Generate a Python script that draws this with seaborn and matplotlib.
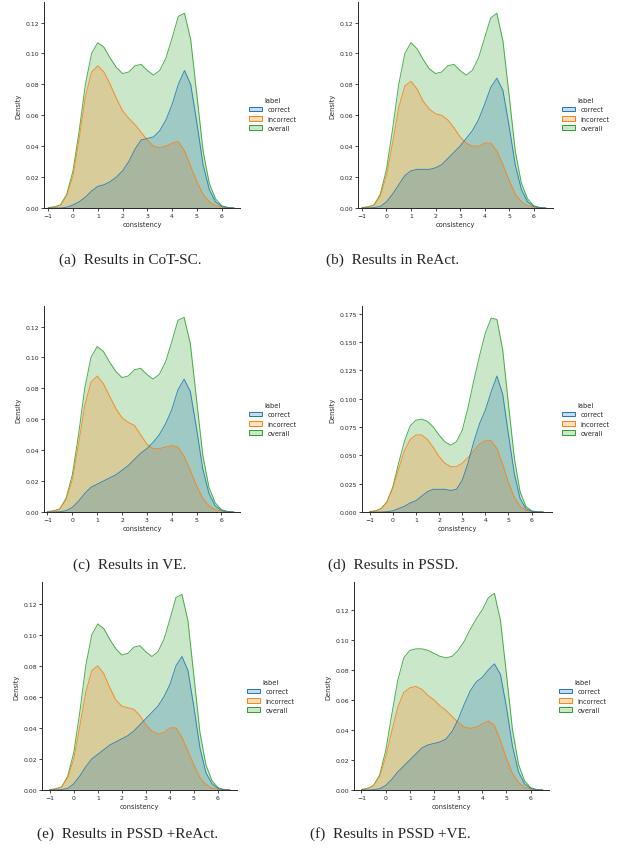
import matplotlib
matplotlib.use("Agg")
import matplotlib.pyplot as plt
import seaborn as sns
from matplotlib.patches import Patch

# grid of consistency values where the density curves were read
consistency = [-1.0, -0.75, -0.5, -0.25, 0.0, 0.25, 0.5, 0.75, 1.0, 1.25, 1.5,
               1.75, 2.0, 2.25, 2.5, 2.75, 3.0, 3.25, 3.5, 3.75, 4.0, 4.25,
               4.5, 4.75, 5.0, 5.25, 5.5, 5.75, 6.0, 6.25, 6.5]

labels = ["correct", "incorrect", "overall"]

# (a) CoT-SC
cotsc_correct = [0, 0, 0, 0.0005, 0.002, 0.004, 0.007, 0.011, 0.014, 0.015, 0.017, 0.020, 0.024, 0.030, 0.038, 0.044,
                 0.045, 0.046, 0.050, 0.057, 0.067, 0.080, 0.089, 0.080, 0.055, 0.028, 0.012, 0.004, 0.001, 0.0002, 0]
cotsc_incorrect = [0, 0.0005, 0.002, 0.008, 0.021, 0.045, 0.072, 0.088, 0.092, 0.088, 0.080, 0.071, 0.063, 0.058, 0.054, 0.049,
                   0.044, 0.040, 0.039, 0.040, 0.042, 0.043, 0.037, 0.027, 0.017, 0.009, 0.004, 0.0015, 0.0005, 0.0001, 0]
cotsc_overall = [0.0003, 0.0008, 0.002, 0.009, 0.024, 0.050, 0.080, 0.100, 0.107, 0.104, 0.097, 0.091, 0.087, 0.088, 0.092, 0.093,
                 0.089, 0.086, 0.089, 0.097, 0.110, 0.124, 0.126, 0.109, 0.073, 0.037, 0.016, 0.006, 0.0015, 0.0003, 0]

# (b) ReAct
react_correct = [0, 0, 0.0003, 0.001, 0.004, 0.009, 0.015, 0.021, 0.024, 0.025, 0.025, 0.025, 0.026, 0.028, 0.032, 0.036,
                 0.040, 0.045, 0.050, 0.057, 0.067, 0.078, 0.084, 0.076, 0.053, 0.028, 0.012, 0.004, 0.001, 0.0002, 0]
react_incorrect = [0, 0.0005, 0.002, 0.008, 0.021, 0.042, 0.065, 0.079, 0.082, 0.077, 0.069, 0.064, 0.061, 0.060, 0.057, 0.052,
                   0.046, 0.042, 0.040, 0.040, 0.042, 0.042, 0.037, 0.028, 0.018, 0.009, 0.004, 0.0015, 0.0005, 0.0001, 0]
react_overall = [0.0003, 0.0008, 0.002, 0.009, 0.025, 0.051, 0.080, 0.100, 0.107, 0.103, 0.096, 0.090, 0.087, 0.088, 0.092, 0.093,
                 0.089, 0.086, 0.089, 0.097, 0.110, 0.123, 0.126, 0.108, 0.073, 0.037, 0.016, 0.006, 0.0015, 0.0003, 0]

# (c) VE
ve_correct = [0, 0, 0.0002, 0.0008, 0.003, 0.007, 0.012, 0.016, 0.018, 0.020, 0.022, 0.024, 0.027, 0.030, 0.034, 0.038,
              0.041, 0.045, 0.050, 0.057, 0.066, 0.079, 0.086, 0.078, 0.054, 0.028, 0.012, 0.004, 0.001, 0.0002, 0]
ve_incorrect = [0, 0.0005, 0.002, 0.008, 0.021, 0.044, 0.069, 0.084, 0.088, 0.083, 0.075, 0.067, 0.061, 0.058, 0.056, 0.050,
                0.044, 0.041, 0.041, 0.042, 0.043, 0.042, 0.036, 0.027, 0.017, 0.009, 0.004, 0.0015, 0.0005, 0.0001, 0]
ve_overall = [0.0003, 0.0008, 0.002, 0.009, 0.024, 0.050, 0.080, 0.100, 0.107, 0.104, 0.097, 0.091, 0.087, 0.088, 0.092, 0.093,
              0.089, 0.086, 0.089, 0.097, 0.110, 0.124, 0.126, 0.109, 0.073, 0.037, 0.016, 0.006, 0.0015, 0.0003, 0]

# (d) PSSD
pssd_correct = [0, 0, 0, 0.0003, 0.001, 0.003, 0.005, 0.008, 0.010, 0.014, 0.018, 0.020, 0.020, 0.020, 0.019, 0.020,
                0.028, 0.043, 0.062, 0.078, 0.090, 0.106, 0.120, 0.104, 0.068, 0.034, 0.012, 0.003, 0.0006, 0.0001, 0]
pssd_incorrect = [0.0003, 0.001, 0.003, 0.009, 0.021, 0.038, 0.054, 0.064, 0.068, 0.068, 0.064, 0.057, 0.049, 0.043, 0.040, 0.040,
                  0.043, 0.048, 0.054, 0.060, 0.063, 0.063, 0.056, 0.042, 0.026, 0.013, 0.005, 0.0015, 0.0004, 0.0001, 0]
pssd_overall = [0.0003, 0.001, 0.003, 0.009, 0.022, 0.043, 0.062, 0.076, 0.081, 0.082, 0.080, 0.075, 0.068, 0.062, 0.059, 0.062,
                0.072, 0.092, 0.116, 0.138, 0.158, 0.171, 0.170, 0.143, 0.095, 0.048, 0.018, 0.005, 0.001, 0.0002, 0]

# (e) PSSD +ReAct
pssd_react_correct = [0, 0, 0.0003, 0.001, 0.004, 0.009, 0.015, 0.020, 0.023, 0.026, 0.029, 0.031, 0.033, 0.035, 0.038, 0.042,
                      0.046, 0.050, 0.054, 0.060, 0.068, 0.080, 0.086, 0.077, 0.053, 0.027, 0.011, 0.004, 0.001, 0.0002, 0]
pssd_react_incorrect = [0, 0.0005, 0.002, 0.008, 0.020, 0.041, 0.063, 0.077, 0.080, 0.075, 0.066, 0.058, 0.054, 0.053, 0.052, 0.048,
                        0.042, 0.038, 0.036, 0.037, 0.040, 0.040, 0.034, 0.025, 0.016, 0.008, 0.0035, 0.0013, 0.0004, 0.0001, 0]
pssd_react_overall = [0.0003, 0.0008, 0.002, 0.009, 0.024, 0.050, 0.080, 0.100, 0.107, 0.104, 0.097, 0.091, 0.087, 0.088, 0.092, 0.093,
                      0.089, 0.086, 0.089, 0.097, 0.110, 0.124, 0.126, 0.109, 0.073, 0.037, 0.016, 0.006, 0.0015, 0.0003, 0]

# (f) PSSD +VE
pssd_ve_correct = [0, 0, 0.0002, 0.0008, 0.003, 0.007, 0.012, 0.016, 0.020, 0.024, 0.028, 0.030, 0.031, 0.032, 0.034, 0.039,
                   0.047, 0.057, 0.066, 0.072, 0.075, 0.080, 0.084, 0.077, 0.055, 0.029, 0.012, 0.004, 0.001, 0.0002, 0]
pssd_ve_incorrect = [0.0003, 0.001, 0.003, 0.009, 0.022, 0.039, 0.055, 0.065, 0.068, 0.069, 0.067, 0.063, 0.060, 0.056, 0.053, 0.049,
                     0.045, 0.042, 0.041, 0.042, 0.044, 0.046, 0.043, 0.033, 0.021, 0.011, 0.005, 0.0018, 0.0005, 0.0001, 0]
pssd_ve_overall = [0.0003, 0.001, 0.003, 0.010, 0.026, 0.050, 0.073, 0.088, 0.093, 0.094, 0.094, 0.093, 0.091, 0.089, 0.088, 0.089,
                   0.093, 0.099, 0.107, 0.114, 0.120, 0.128, 0.131, 0.113, 0.077, 0.040, 0.017, 0.006, 0.0015, 0.0003, 0]

captions = ["(a)  Results in CoT-SC.", "(b)  Results in ReAct.", "(c)  Results in VE.",
            "(d)  Results in PSSD.", "(e)  Results in PSSD +ReAct.", "(f)  Results in PSSD +VE."]

series = [
    (cotsc_correct, cotsc_incorrect, cotsc_overall),
    (react_correct, react_incorrect, react_overall),
    (ve_correct, ve_incorrect, ve_overall),
    (pssd_correct, pssd_incorrect, pssd_overall),
    (pssd_react_correct, pssd_react_incorrect, pssd_react_overall),
    (pssd_ve_correct, pssd_ve_incorrect, pssd_ve_overall),
]

# layout in pixels: axes left, right, top, bottom; x limits; y top
layout = [
    (44, 240, 3, 209, (-1.17, 6.74), 0.1333),
    (358, 553, 3, 209, (-1.16, 6.79), 0.1333),
    (44, 240, 307, 513, (-1.14, 6.75), 0.1333),
    (362, 552, 307, 513, (-1.33, 6.88), 0.1818),
    (42, 237, 583, 791, (-1.32, 6.79), 0.1340),
    (354, 549, 583, 791, (-1.31, 6.76), 0.1385),
]
# legend anchor (swatch left, block centre) and caption centre, in pixels
legend_pos = [(249, 115), (562, 115), (249, 420), (562, 420), (247, 697), (559, 697)]
caption_pos = [(130, 260), (393, 260), (130, 565), (393, 565), (128, 834), (390, 834)]

W, H = 623, 854

sns.set_style("ticks")
plt.rcParams["font.family"] = ["DejaVu Sans"]
palette = sns.color_palette("tab10", 3)

fig = plt.figure(figsize=(W / 100, H / 100), dpi=100)

for i, (curves, lay) in enumerate(zip(series, layout)):
    L, R, T, B, xlim, ytop = lay
    ax = fig.add_axes([L / W, 1 - B / H, (R - L) / W, (B - T) / H])
    # overall drawn first, correct on top (seaborn layer order)
    for j in [2, 1, 0]:
        ax.fill_between(consistency, curves[j], color=palette[j], alpha=0.25, linewidth=0)
        sns.lineplot(x=consistency, y=curves[j], ax=ax, color=palette[j], linewidth=0.7, alpha=0.85)
    ax.set_xlim(*xlim)
    ax.set_ylim(0, ytop)
    ax.set_xticks([-1, 0, 1, 2, 3, 4, 5, 6])
    ax.set_xlabel("consistency", fontsize=4.8, labelpad=2)
    ax.set_ylabel("Density", fontsize=4.8, labelpad=3)
    ax.tick_params(labelsize=4.4, length=2.2, width=0.6, pad=1.5)
    for s in ["left", "bottom"]:
        ax.spines[s].set_linewidth(0.7)
    sns.despine(ax=ax)

    handles = [Patch(facecolor=(*palette[k], 0.25), edgecolor=palette[k], linewidth=0.7) for k in range(3)]
    lx, ly = legend_pos[i]
    fig.legend(handles, labels, title="label", loc="center left",
               bbox_to_anchor=(lx / W, 1 - ly / H), frameon=False,
               fontsize=4.7, title_fontsize=4.8, borderpad=0, borderaxespad=0,
               handlelength=2.0, handletextpad=0.8, labelspacing=0.5)

    cx, cy = caption_pos[i]
    fig.text(cx / W, 1 - cy / H, captions[i], ha="center", va="center",
             fontsize=11, family="Liberation Serif")

fig.savefig("out.png", dpi=100)
